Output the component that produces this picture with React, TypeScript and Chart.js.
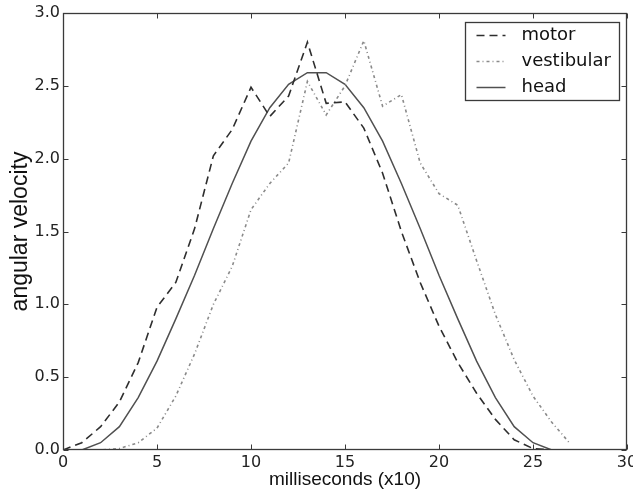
import React, { useEffect, useRef } from 'react';
import { Chart, registerables } from 'chart.js';

Chart.register(...registerables);

const xValues = [0, 1, 2, 3, 4, 5, 6, 7, 8, 9, 10, 11, 12, 13, 14, 15, 16, 17, 18, 19, 20, 21, 22, 23, 24, 25, 26, 27];
const motor = [0, 0.05, 0.16, 0.33, 0.6, 0.98, 1.15, 1.52, 2.02, 2.2, 2.49, 2.29, 2.43, 2.8, 2.38, 2.39, 2.21, 1.9, 1.5, 1.15, 0.85, 0.6, 0.39, 0.21, 0.07, 0.01, 0, null];
const vestibular = [0, 0, 0, 0.01, 0.05, 0.15, 0.37, 0.66, 1.0, 1.26, 1.65, 1.83, 1.97, 2.53, 2.3, 2.5, 2.81, 2.36, 2.44, 1.97, 1.76, 1.68, 1.3, 0.93, 0.62, 0.37, 0.19, 0.04];
const head = [0, 0, 0.05, 0.16, 0.36, 0.61, 0.9, 1.2, 1.52, 1.83, 2.12, 2.35, 2.51, 2.59, 2.59, 2.51, 2.35, 2.12, 1.83, 1.52, 1.2, 0.9, 0.61, 0.36, 0.16, 0.05, 0, 0];
const seriesLabels = ['motor', 'vestibular', 'head'];
const xTicks = [0, 5, 10, 15, 20, 25, 30];
const yTicks = [0, 0.5, 1.0, 1.5, 2.0, 2.5, 3.0];
const xTitle = 'milliseconds (x10)';
const yTitle = 'angular velocity';

const toPoints = (ys: (number | null)[]) => xValues.map((x, i) => ({ x, y: ys[i] }));

const framePlugin = {
  id: 'frameTicks',
  afterDatasetsDraw(chart: any) {
    const { ctx, chartArea: a, scales } = chart;
    const xs = scales.x;
    const ys = scales.y;
    const L = Math.round(a.left) + 0.5;
    const R = Math.round(a.right) - 0.5;
    const T = Math.round(a.top) + 0.5;
    const B = Math.round(a.bottom) - 0.5;
    const tl = 5;
    ctx.save();
    ctx.strokeStyle = '#3a3a3a';
    ctx.lineWidth = 1;
    ctx.setLineDash([]);
    ctx.beginPath();
    xTicks.forEach((v) => {
      const p = Math.round(xs.getPixelForValue(v)) + 0.5;
      ctx.moveTo(p, B);
      ctx.lineTo(p, B - tl);
      ctx.moveTo(p, T);
      ctx.lineTo(p, T + tl);
    });
    yTicks.forEach((v) => {
      const p = Math.round(ys.getPixelForValue(v)) + 0.5;
      ctx.moveTo(L, p);
      ctx.lineTo(L + tl, p);
      ctx.moveTo(R, p);
      ctx.lineTo(R - tl, p);
    });
    ctx.stroke();
    ctx.lineWidth = 1.3;
    ctx.strokeRect(L, T, R - L, B - T);
    ctx.restore();
  },
};

const legendPlugin = {
  id: 'boxLegend',
  afterDraw(chart: any) {
    const { ctx, chartArea: a } = chart;
    const w = 154;
    const h = 78;
    const left = Math.round(a.right - 8 - w) + 0.5;
    const top = Math.round(a.top + 9) + 0.5;
    ctx.save();
    ctx.fillStyle = '#ffffff';
    ctx.fillRect(left, top, w, h);
    ctx.strokeStyle = '#3a3a3a';
    ctx.lineWidth = 1.3;
    ctx.setLineDash([]);
    ctx.strokeRect(left, top, w, h);
    ctx.font = '18px "DejaVu Sans"';
    ctx.textBaseline = 'middle';
    ctx.textAlign = 'left';
    chart.data.datasets.forEach((ds: any, i: number) => {
      const cy = top + 13 + i * 26;
      ctx.strokeStyle = ds.borderColor;
      ctx.lineWidth = ds.borderWidth;
      ctx.setLineDash(ds.borderDash || []);
      ctx.beginPath();
      ctx.moveTo(left + 11, cy);
      ctx.lineTo(left + 40, cy);
      ctx.stroke();
      ctx.setLineDash([]);
      ctx.fillStyle = '#111';
      ctx.fillText(ds.label, left + 56, cy);
    });
    ctx.restore();
  },
};

export default function App() {
  const canvasRef = useRef<HTMLCanvasElement | null>(null);

  useEffect(() => {
    const canvas = canvasRef.current;
    if (!canvas) return;
    const tickFont = { family: '"DejaVu Sans"', size: 16 };
    const chart = new Chart(canvas, {
      type: 'line',
      data: {
        datasets: [
          {
            label: seriesLabels[0],
            data: toPoints(motor),
            borderColor: '#2e2e2e',
            borderWidth: 1.6,
            borderDash: [8, 5],
            pointRadius: 0,
            fill: false,
            tension: 0,
          },
          {
            label: seriesLabels[1],
            data: toPoints(vestibular),
            borderColor: '#8a8a8a',
            borderWidth: 1.6,
            borderDash: [3, 3, 1, 3],
            pointRadius: 0,
            fill: false,
            tension: 0,
          },
          {
            label: seriesLabels[2],
            data: toPoints(head),
            borderColor: '#505050',
            borderWidth: 1.5,
            pointRadius: 0,
            fill: false,
            tension: 0,
          },
        ],
      },
      options: {
        animation: false,
        responsive: false,
        maintainAspectRatio: false,
        devicePixelRatio: 1,
        layout: { padding: { top: 13, right: 6, left: 0, bottom: 0 } },
        plugins: {
          legend: { display: false },
          tooltip: { enabled: false },
        },
        scales: {
          x: {
            type: 'linear',
            min: 0,
            max: 30,
            grid: { display: false, drawTicks: false },
            border: { display: false },
            ticks: {
              stepSize: 5,
              padding: 3,
              color: '#222',
              font: tickFont,
              maxRotation: 0,
              autoSkip: false,
              callback: (v: any) => String(v),
            },
            title: {
              display: true,
              text: xTitle,
              color: '#111',
              font: { family: '"Liberation Sans", Arial, sans-serif', size: 19 },
              padding: { top: 0, bottom: 0 },
            },
            afterFit: (s: any) => {
              s.height = 41;
              s.paddingLeft = 0;
              s.paddingRight = 0;
            },
          },
          y: {
            type: 'linear',
            min: 0,
            max: 3,
            grid: { display: false, drawTicks: false },
            border: { display: false },
            ticks: {
              stepSize: 0.5,
              padding: 3,
              color: '#222',
              font: tickFont,
              autoSkip: false,
              callback: (v: any) => Number(v).toFixed(1),
            },
            title: {
              display: true,
              text: yTitle,
              color: '#111',
              font: { family: '"Liberation Sans", Arial, sans-serif', size: 23 },
              padding: { top: 7, bottom: 0 },
            },
            afterFit: (s: any) => {
              s.width = 63;
              s.paddingTop = 0;
              s.paddingBottom = 0;
            },
          },
        },
      },
      plugins: [framePlugin, legendPlugin],
    });
    return () => chart.destroy();
  }, []);

  return (
    <div style={{ position: 'fixed', left: 0, top: 0, width: 633, height: 491, background: '#fff' }}>
      <canvas ref={canvasRef} width={633} height={491} style={{ display: 'block', width: 633, height: 491 }} />
    </div>
  );
}
